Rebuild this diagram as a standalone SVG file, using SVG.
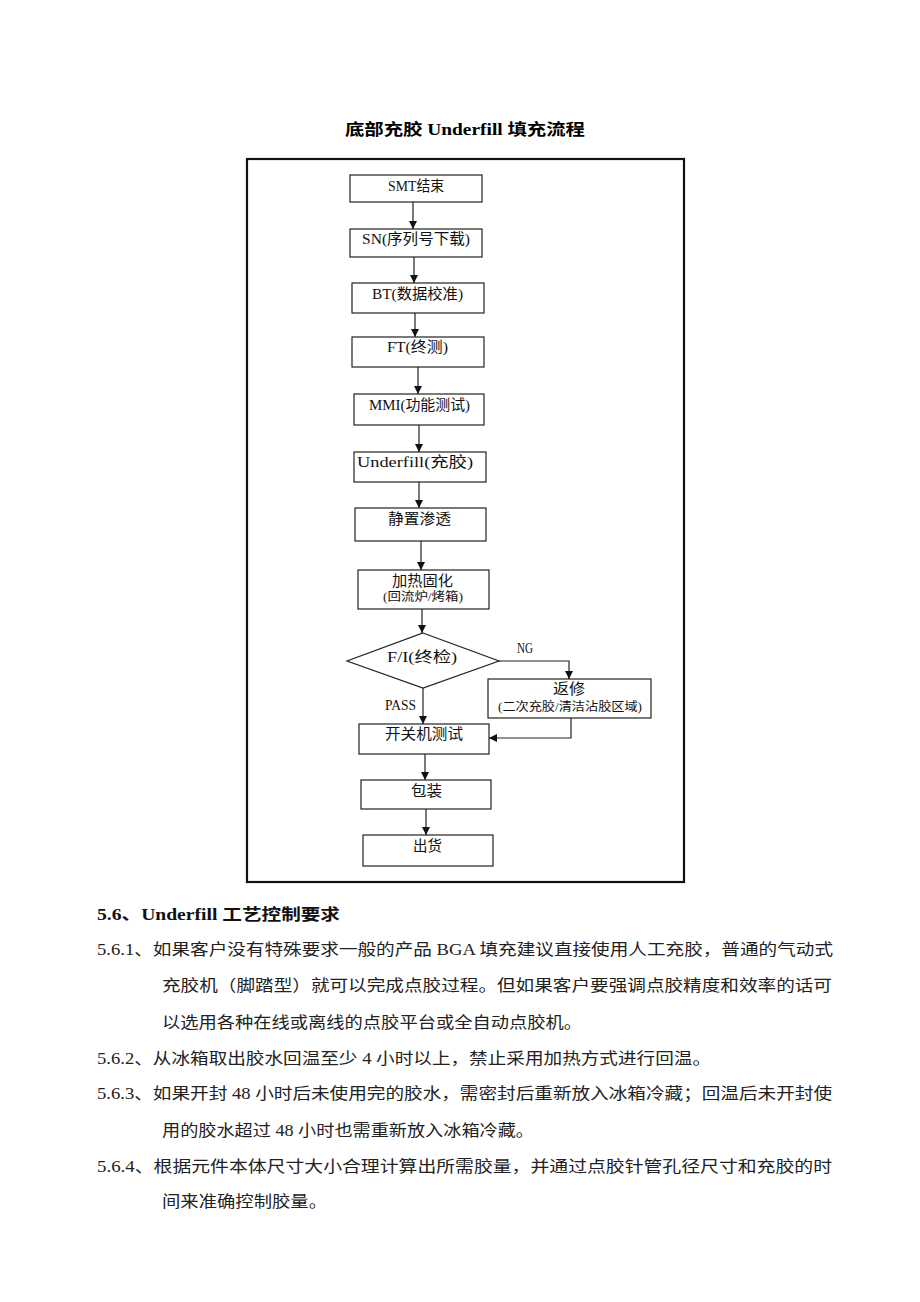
<svg xmlns="http://www.w3.org/2000/svg" width="920" height="1302" viewBox="0 0 920 1302">
<style>
.bg{fill:#ffffff}
.frame{fill:none;stroke:#111;stroke-width:2.2}
.box{fill:#fff;stroke:#222;stroke-width:1.2}
.t{font-family:"Liberation Serif","Noto Sans CJK SC",serif;font-size:15px;fill:#111}
.ts{font-family:"Liberation Serif","Noto Sans CJK SC",serif;font-size:12px;fill:#111}
.title{font-family:"Liberation Serif","Noto Sans CJK SC",serif;font-size:16px;font-weight:bold;fill:#000}
.body{font-family:"Liberation Serif","Noto Sans CJK SC",serif;font-size:16px;fill:#222}
.head{font-family:"Liberation Serif","Noto Sans CJK SC",serif;font-size:16px;font-weight:bold;fill:#111}
.c{fill:none;stroke:#222;stroke-width:1.2}
</style>
<defs>
<marker id="arr" markerUnits="userSpaceOnUse" markerWidth="9" markerHeight="9" refX="8" refY="4" orient="auto">
<path d="M0,0 L8,4 L0,8 z" fill="#111"/>
</marker>
</defs>
<rect class="bg" x="0" y="0" width="920" height="1302"/>
<text id="title" class="title" x="345" y="135" textLength="240" lengthAdjust="spacingAndGlyphs">底部充胶 Underfill 填充流程</text>
<rect id="frame" class="frame" x="247" y="159" width="437" height="723"/>

<g id="connectors">
<path class="c" d="M413,202 V229" marker-end="url(#arr)"/>
<path class="c" d="M414,257 V283" marker-end="url(#arr)"/>
<path class="c" d="M415,313 V337" marker-end="url(#arr)"/>
<path class="c" d="M418,367 V394" marker-end="url(#arr)"/>
<path class="c" d="M419,425 V452" marker-end="url(#arr)"/>
<path class="c" d="M419,482 V508" marker-end="url(#arr)"/>
<path class="c" d="M421,541 V570" marker-end="url(#arr)"/>
<path class="c" d="M422,609 V633" marker-end="url(#arr)"/>
<path class="c" d="M423,688 V724" marker-end="url(#arr)"/>
<path class="c" d="M499,661 H569 V679" marker-end="url(#arr)"/>
<path class="c" d="M571,718 V738 H489" marker-end="url(#arr)"/>
<path class="c" d="M425,754 V780" marker-end="url(#arr)"/>
<path class="c" d="M426,809 V835" marker-end="url(#arr)"/>
<text class="t" x="517" y="653" textLength="16" lengthAdjust="spacingAndGlyphs">NG</text>
<text class="t" x="385" y="710" textLength="31" lengthAdjust="spacingAndGlyphs">PASS</text>
</g>

<g id="n1"><rect class="box" x="350" y="175" width="132" height="27"/><text class="t" x="388" y="191" textLength="56" lengthAdjust="spacingAndGlyphs">SMT结束</text></g>
<g id="n2"><rect class="box" x="350" y="229" width="132" height="28"/><text class="t" x="362" y="244" textLength="108" lengthAdjust="spacingAndGlyphs">SN(序列号下载)</text></g>
<g id="n3"><rect class="box" x="352" y="283" width="132" height="30"/><text class="t" x="372" y="299" textLength="91" lengthAdjust="spacingAndGlyphs">BT(数据校准)</text></g>
<g id="n4"><rect class="box" x="352" y="337" width="132" height="30"/><text class="t" x="387" y="352" textLength="61" lengthAdjust="spacingAndGlyphs">FT(终测)</text></g>
<g id="n5"><rect class="box" x="354" y="394" width="130" height="31"/><text class="t" x="369" y="410" textLength="101" lengthAdjust="spacingAndGlyphs">MMI(功能测试)</text></g>
<g id="n6"><rect class="box" x="354" y="452" width="132" height="30"/><text class="t" x="357" y="467" textLength="116" lengthAdjust="spacingAndGlyphs">Underfill(充胶)</text></g>
<g id="n7"><rect class="box" x="355" y="508" width="131" height="33"/><text class="t" x="388" y="524" textLength="63" lengthAdjust="spacingAndGlyphs">静置渗透</text></g>
<g id="n8"><rect class="box" x="358" y="570" width="131" height="39"/><text class="t" x="392" y="586" textLength="61" lengthAdjust="spacingAndGlyphs">加热固化</text><text class="ts" x="383" y="601" textLength="80" lengthAdjust="spacingAndGlyphs">(回流炉/烤箱)</text></g>
<g id="n9"><polygon class="box" points="423,633 499,661 423,688 347,661"/><text class="t" x="387" y="662" textLength="70" lengthAdjust="spacingAndGlyphs">F/I(终检)</text></g>
<g id="n10"><rect class="box" x="488" y="679" width="163" height="39"/><text class="t" x="553" y="694" textLength="32" lengthAdjust="spacingAndGlyphs">返修</text><text class="ts" x="498" y="711" textLength="144" lengthAdjust="spacingAndGlyphs">(二次充胶/清洁沾胶区域)</text></g>
<g id="n11"><rect class="box" x="359" y="724" width="130" height="30"/><text class="t" x="385" y="739" textLength="78" lengthAdjust="spacingAndGlyphs">开关机测试</text></g>
<g id="n12"><rect class="box" x="361" y="780" width="130" height="29"/><text class="t" x="411" y="796" textLength="31" lengthAdjust="spacingAndGlyphs">包装</text></g>
<g id="n13"><rect class="box" x="363" y="835" width="130" height="31"/><text class="t" x="413" y="851" textLength="29" lengthAdjust="spacingAndGlyphs">出货</text></g>

<g id="body">
<text class="head" x="97" y="920" textLength="243" lengthAdjust="spacingAndGlyphs">5.6、Underfill 工艺控制要求</text>
<text class="body" x="97" y="955" textLength="736" lengthAdjust="spacingAndGlyphs">5.6.1、如果客户没有特殊要求一般的产品 BGA 填充建议直接使用人工充胶，普通的气动式</text>
<text class="body" x="162" y="991" textLength="670" lengthAdjust="spacingAndGlyphs">充胶机（脚踏型）就可以完成点胶过程。但如果客户要强调点胶精度和效率的话可</text>
<text class="body" x="162" y="1028" textLength="420" lengthAdjust="spacingAndGlyphs">以选用各种在线或离线的点胶平台或全自动点胶机。</text>
<text class="body" x="97" y="1064" textLength="614" lengthAdjust="spacingAndGlyphs">5.6.2、从冰箱取出胶水回温至少 4 小时以上，禁止采用加热方式进行回温。</text>
<text class="body" x="97" y="1099" textLength="735" lengthAdjust="spacingAndGlyphs">5.6.3、如果开封 48 小时后未使用完的胶水，需密封后重新放入冰箱冷藏；回温后未开封使</text>
<text class="body" x="162" y="1136" textLength="372" lengthAdjust="spacingAndGlyphs">用的胶水超过 48 小时也需重新放入冰箱冷藏。</text>
<text class="body" x="97" y="1172" textLength="735" lengthAdjust="spacingAndGlyphs">5.6.4、根据元件本体尺寸大小合理计算出所需胶量，并通过点胶针管孔径尺寸和充胶的时</text>
<text class="body" x="162" y="1207" textLength="165" lengthAdjust="spacingAndGlyphs">间来准确控制胶量。</text>
</g>
</svg>
